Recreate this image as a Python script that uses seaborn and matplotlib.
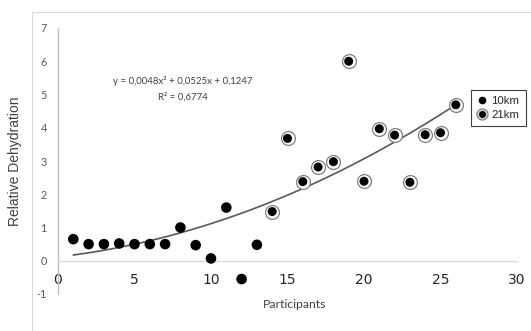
import numpy as np
import pandas as pd
import matplotlib
matplotlib.use("Agg")
import matplotlib.pyplot as plt
from matplotlib.patches import Rectangle
import seaborn as sns

# ---- data ----
participants_10 = [1, 2, 3, 4, 5, 6, 7, 8, 9, 10, 11, 12, 13]
dehydration_10 = [0.65, 0.50, 0.50, 0.52, 0.50, 0.50, 0.50, 1.00, 0.47, 0.07, 1.60, -0.55, 0.48]
participants_21 = [14, 15, 16, 17, 18, 19, 20, 21, 22, 23, 24, 25, 26]
dehydration_21 = [1.48, 3.68, 2.38, 2.82, 2.98, 6.00, 2.39, 3.97, 3.78, 2.36, 3.79, 3.85, 4.69]
series_labels = ["10km", "21km"]
x_ticks = [0, 5, 10, 15, 20, 25, 30]
y_ticks = [-1, 0, 1, 2, 3, 4, 5, 6, 7]
equation_text = "y = 0,0048x\u00b2 + 0,0525x + 0,1247"
r2_text = "R\u00b2 = 0,6774"

df = pd.DataFrame({
    "Participants": participants_10 + participants_21,
    "Dehydration": dehydration_10 + dehydration_21,
    "Distance": [series_labels[0]] * len(participants_10) + [series_labels[1]] * len(participants_21),
})
d10 = df[df["Distance"] == series_labels[0]]
d21 = df[df["Distance"] == series_labels[1]]

sns.set_style("white")
W, H = 531, 331
fig = plt.figure(figsize=(W / 100, H / 100), dpi=100)
ax = fig.add_axes([58 / W, 1 - 294 / H, (517 - 58) / W, (294 - 28) / H])

# outer chart-area frame (left and top edges visible)
fig.add_artist(Rectangle((32 / W, -0.2), 1.5, 1.2 - 12 / H, transform=fig.transFigure,
                         fill=False, edgecolor="#d9d9d9", linewidth=0.8))

tick_font = "Lato"
grey_txt = "#595959"

# trendline (2nd order polynomial fit)
sns.regplot(data=df, x="Participants", y="Dehydration", order=2, ci=None,
            scatter=False, truncate=True, ax=ax,
            line_kws=dict(color="#595959", linewidth=1.2))

# 10km points
sns.scatterplot(data=d10, x="Participants", y="Dehydration", ax=ax, s=58,
                color="black", edgecolor="none", zorder=4, legend=False)
# 21km points: grey ring + inner dot
sns.scatterplot(data=d21, x="Participants", y="Dehydration", ax=ax, s=100,
                color="white", edgecolor="#7f7f7f", linewidth=0.9, zorder=4, legend=False)
sns.scatterplot(data=d21, x="Participants", y="Dehydration", ax=ax, s=42,
                color="black", edgecolor="none", zorder=5, legend=False)

ax.set_xlim(0, 30)
ax.set_ylim(-1, 7)
ax.set_xticks(x_ticks)
ax.set_yticks(y_ticks)
ax.set_xticklabels([str(v) for v in x_ticks], family=tick_font, fontsize=7.8, color=grey_txt)
ax.set_yticklabels([str(v) for v in y_ticks], family=tick_font, fontsize=7.8, color=grey_txt)
ax.tick_params(axis="both", length=0)
ax.tick_params(axis="x", pad=8.5)
ax.tick_params(axis="y", pad=8)

for s in ["top", "right"]:
    ax.spines[s].set_visible(False)
ax.spines["left"].set_color("#bfbfbf")
ax.spines["left"].set_linewidth(1.0)
ax.spines["bottom"].set_position(("data", 0))
ax.spines["bottom"].set_color("#d9d9d9")
ax.spines["bottom"].set_linewidth(1.0)

ax.set_xlabel("Participants", family=tick_font, fontsize=8.8, color="#404040")
ax.xaxis.set_label_coords(0.516, -0.018)
ax.set_ylabel("Relative Dehydration", family="Liberation Sans", fontsize=10, color="#404040")
ax.yaxis.set_label_coords(-0.078, 0.5)

ax.text(8.15, 5.41, equation_text, ha="center", va="center", family=tick_font,
        fontsize=6.9, color="#404040")
ax.text(8.15, 4.92, r2_text, ha="center", va="center", family=tick_font,
        fontsize=6.9, color="#404040")

# legend
h10 = plt.Line2D([], [], linestyle="none", marker="o", markersize=5.5, markerfacecolor="black",
                 markeredgecolor="none")
h21a = plt.Line2D([], [], linestyle="none", marker="o", markersize=8, markerfacecolor="#d0d0d0",
                  markeredgecolor="#7f7f7f", markeredgewidth=0.8)
h21b = plt.Line2D([], [], linestyle="none", marker="o", markersize=5, markerfacecolor="black",
                  markeredgecolor="none")
leg = ax.legend([h10, (h21a, h21b)], series_labels, loc="upper left",
                bbox_to_anchor=(471 / W, 1 - 90 / H), bbox_transform=fig.transFigure,
                borderaxespad=0, frameon=True, fancybox=False, framealpha=1,
                edgecolor="#404040", prop=dict(family="Liberation Sans", size=8.2),
                handlelength=0.8, handletextpad=0.45, borderpad=0.55, labelspacing=0.3)
leg.get_frame().set_linewidth(0.8)
for t in leg.get_texts():
    t.set_color("#262626")

fig.savefig("out.png", dpi=100)
